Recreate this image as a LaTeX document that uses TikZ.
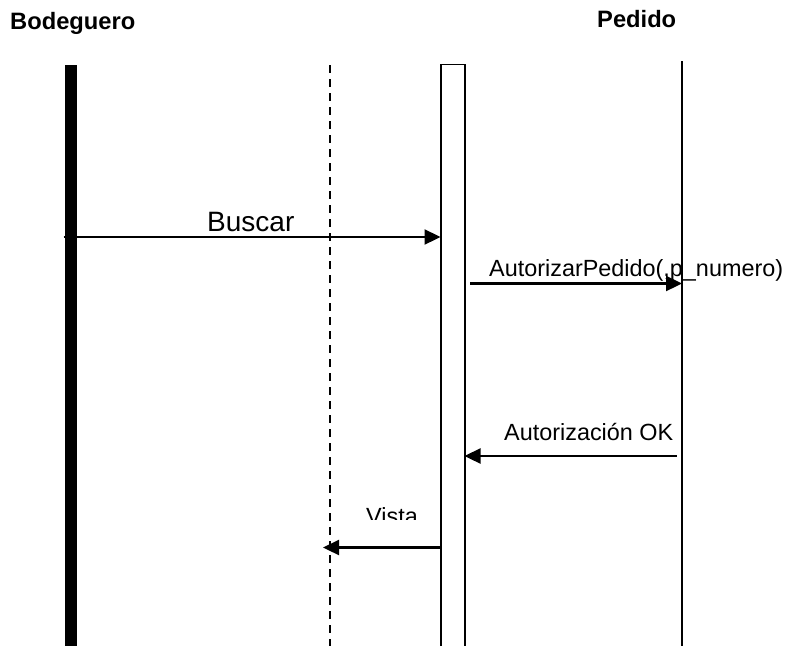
\documentclass[tikz,border=0pt]{standalone}
\usepackage{fontspec}
\setmainfont{Liberation Sans}
\usetikzlibrary{arrows.meta}
\tikzset{
  msg/.style={line width=2.3pt,-{Triangle[length=16pt,width=15pt]}},
  lbl/.style={inner sep=0pt,anchor=base west,font=\fontsize{23.4}{26}\selectfont},
  actor/.style={inner sep=0pt,anchor=base west,font=\fontsize{23.7}{26}\selectfont\bfseries},
  life/.style={line width=2pt},
  dashlife/.style={line width=2pt,dash pattern=on 7.5pt off 6.5pt},
}
\begin{document}
\begin{tikzpicture}[x=1pt,y=-1pt]
\useasboundingbox (0,0) rectangle (790,646);
% actors
\node[actor] (bod) at (10,29) {Bodeguero};
\node[actor] (ped) at (597,27) {Pedido};
% lifelines
\fill (65,65) rectangle (76.5,646);
\draw[dashlife] (330.3,65) coordinate (dtop) -- (330.3,646) coordinate (dbot);
\draw[line width=1.6pt] (441,646) -- (441,64.5) -- (465,64.5) -- (465,646);
\draw[life] (682,61) coordinate (ptop) -- (682,646) coordinate (pbot);
% messages
\coordinate (b1) at (63.5,237);
\coordinate (b2) at (440.5,237);
\draw[msg] (b1) -- (b2);
\node[inner sep=0pt,anchor=base west,font=\fontsize{28}{30}\selectfont] (buscar) at (207,231) {Buscar};
\coordinate (a1) at (470,283.5);
\coordinate (a2) at (682,283.5);
\draw[msg] (a1) -- (a2);
\node[lbl] (autp) at (489,276) {AutorizarPedido(,p\_numero)};
\coordinate (o1) at (676.5,456);
\coordinate (o2) at (464.5,456);
\draw[msg] (o1) -- (o2);
\node[lbl] (autok) at (504,440) {Autorización OK};
\coordinate (v1) at (441.5,547.5);
\coordinate (v2) at (323,547.5);
\draw[msg] (v1) -- (v2);
\begin{scope}
\clip (340,480) rectangle (440,519.5);
\node[lbl] (vista) at (366,524.5) {Vista};
\end{scope}
\end{tikzpicture}
\end{document}
